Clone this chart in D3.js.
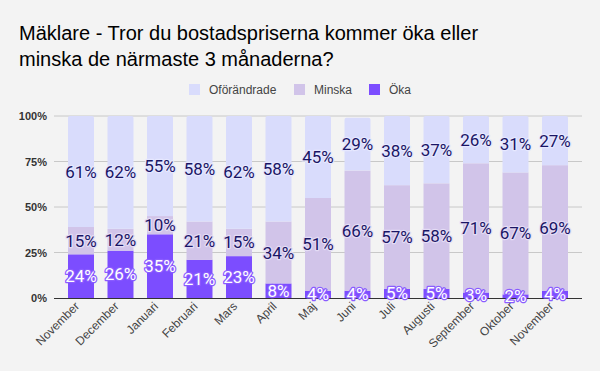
<!DOCTYPE html>
<html><head><meta charset="utf-8">
<script src="https://cdn.jsdelivr.net/npm/d3@7"></script>
<style>body{margin:0;background:#f3f3f3}svg{display:block}</style>
</head><body>
<script>
const months = ["November","December","Januari","Februari","Mars","April","Maj","Juni","Juli","Augusti","September","Oktober","November"];
const oka = [24,26,35,21,23,8,4,4,5,5,3,2,4];
const minska = [15,12,10,21,15,34,51,66,57,58,71,67,69];
const oforandrade = [61,62,55,58,62,58,45,29,38,37,26,31,27];
const yTicks = [0,25,50,75,100];
const seriesNames = ["Öka","Minska","Oförändrade"];
const colors = {"Öka":"#7c4dff","Minska":"#d1c4e9","Oförändrade":"#d9dcfc"};

const W=600,H=371;
const svg=d3.select("body").append("svg").attr("width",W).attr("height",H);
svg.append("rect").attr("width",W).attr("height",H).attr("fill","#f3f3f3");
const font="Roboto, Arial, sans-serif";
const sans="Arial, 'Liberation Sans', sans-serif";

svg.append("text").attr("x",19).attr("y",40).attr("font-family",sans).attr("font-size",20).attr("fill","#000").text("Mäklare - Tror du bostadspriserna kommer öka eller");
svg.append("text").attr("x",19).attr("y",66).attr("font-family",sans).attr("font-size",20).attr("fill","#000").text("minska de närmaste 3 månaderna?");

const legend=[["Oförändrade",189],["Minska",294],["Öka",369]];
legend.forEach(([n,x])=>{
  svg.append("rect").attr("x",x).attr("y",84).attr("width",11).attr("height",11).attr("fill",colors[n]);
  svg.append("text").attr("x",x+20).attr("y",94).attr("font-family",sans).attr("font-size",12).attr("fill","#444").text(n);
});

const x=d3.scaleBand().domain(d3.range(months.length)).range([68,568]).paddingInner(0.342).paddingOuter(0);
const y=d3.scaleLinear().domain([0,100]).range([298,116]);

const grid=svg.append("g");
yTicks.forEach(t=>{
  if(t>0) grid.append("line").attr("x1",54).attr("x2",582).attr("y1",y(t)).attr("y2",y(t)).attr("stroke","#c8c8c8").attr("stroke-width",1);
  grid.append("text").attr("x",47).attr("y",y(t)+4).attr("text-anchor","end").attr("font-family",sans).attr("font-weight","bold").attr("font-size",11).attr("fill","#333").text(t+"%");
});

const data=months.map((m,i)=>({i,"Öka":oka[i],"Minska":minska[i],"Oförändrade":oforandrade[i]}));
const stack=d3.stack().keys(seriesNames)(data);

stack.forEach(s=>{
  const g=svg.append("g");
  s.forEach((d,i)=>{
    const top=s.key==="Oförändrade";
    const x0=x(i),w=x.bandwidth(),y0=y(d[1]),h=y(d[0])-y(d[1]);
    if(top){
      const r=2;
      g.append("path").attr("d",`M${x0},${y0+h}V${y0+r}Q${x0},${y0} ${x0+r},${y0}H${x0+w-r}Q${x0+w},${y0} ${x0+w},${y0+r}V${y0+h}Z`).attr("fill",colors[s.key]);
    } else {
      g.append("rect").attr("x",x0).attr("y",y0).attr("width",w).attr("height",h).attr("fill",colors[s.key]);
    }
  });
});

svg.append("line").attr("x1",54).attr("x2",582).attr("y1",y(0)+0.5).attr("y2",y(0)+0.5).attr("stroke","#333").attr("stroke-width",1);

stack.forEach(s=>{
  s.forEach((d,i)=>{
    const v=d[1]-d[0];
    const cy=(y(d[0])+y(d[1]))/2;
    const isOka=s.key==="Öka";
    svg.append("text").attr("x",x(i)+x.bandwidth()/2).attr("y",cy+6)
      .attr("text-anchor","middle").attr("font-family",font).attr("font-size",17)
      .attr("fill",isOka?"#fff":"#1a1565")
      .attr("stroke",isOka?"#8a5cff":(s.key==="Minska"?"#e4dcf5":"#e6e8ff"))
      .attr("stroke-width",2.5).attr("paint-order","stroke").attr("stroke-linejoin","round")
      .text(Math.round(v)+"%");
  });
});

months.forEach((m,i)=>{
  const cx=x(i)+x.bandwidth()/2-1;
  svg.append("text").attr("transform",`translate(${cx},${307}) rotate(-45)`).attr("text-anchor","end")
    .attr("font-family",sans).attr("font-size",12).attr("fill","#444").text(m);
});
</script>
</body></html>
